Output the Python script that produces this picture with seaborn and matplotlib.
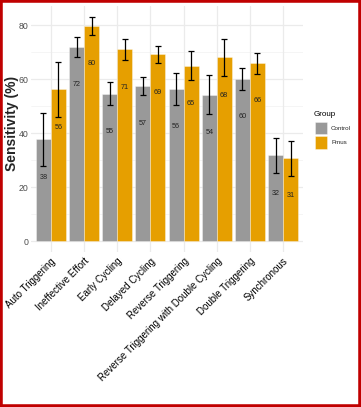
import matplotlib
matplotlib.use("Agg")
import matplotlib.pyplot as plt
from matplotlib.patches import Rectangle
import seaborn as sns
import pandas as pd
import numpy as np

categories = ["Auto Triggering", "Ineffective Effort", "Early Cycling", "Delayed Cycling",
              "Reverse Triggering", "Reverse Triggering with Double Cycling",
              "Double Triggering", "Synchronous"]
groups = ["Control", "Pmus"]
control = [37.7, 72.0, 54.6, 57.4, 56.3, 54.2, 60.1, 31.7]
pmus = [56.2, 79.6, 71.0, 69.1, 65.0, 68.0, 65.9, 30.7]
control_err = [9.8, 3.7, 4.3, 3.5, 5.8, 7.1, 4.0, 6.6]
pmus_err = [10.1, 3.4, 4.0, 3.3, 5.5, 6.9, 3.9, 6.5]
yticks = [0, 20, 40, 60, 80]

colors = {"Control": "#999999", "Pmus": "#E69F00"}

df = pd.DataFrame({
    "Type": categories * 2,
    "Group": ["Control"] * len(categories) + ["Pmus"] * len(categories),
    "Sens": control + pmus,
    "Err": control_err + pmus_err,
})

sns.set_style("white")
plt.rcParams["font.family"] = ["Liberation Sans", "DejaVu Sans"]

W, H = 361, 407
fig = plt.figure(figsize=(W / 100, H / 100), dpi=100)
L, R, T, B = 31, 303, 6, 252
ax = fig.add_axes([L / W, 1 - B / H, (R - L) / W, (B - T) / H])

# grid
for v in [10, 30, 50, 70]:
    ax.axhline(v, color="#F2F2F2", lw=0.5, zorder=0)
for v in yticks:
    ax.axhline(v, color="#EBEBEB", lw=0.9, zorder=0)
for i in range(len(categories)):
    ax.axvline(i, color="#EBEBEB", lw=0.9, zorder=0)

sns.barplot(data=df, x="Type", y="Sens", hue="Group", order=categories,
            hue_order=groups, palette=colors, width=0.9, errorbar=None, saturation=1,
            edgecolor=(1, 1, 1, 0.5), linewidth=0.5, ax=ax, legend=False, zorder=2)

off = 0.225
x = np.arange(len(categories))
for g, vals, errs, sgn in [("Control", control, control_err, -1), ("Pmus", pmus, pmus_err, 1)]:
    xs = x + sgn * off
    ax.errorbar(xs, vals, yerr=errs, fmt="none", ecolor="black", elinewidth=0.9,
                capsize=2.2, capthick=0.9, zorder=3)
    for xi, v in zip(xs, vals):
        ax.text(xi, v - 14, f"{round(v):d}", ha="center", va="center",
                fontsize=5.2, color="#222222", zorder=4)

ax.set_xlim(-0.6, len(categories) - 0.4)
ax.set_ylim(-4.07, 87.04)
ax.set_yticks(yticks)
ax.set_yticklabels([str(v) for v in yticks], fontsize=6.3, color="#4D4D4D")
ax.set_xticks(x)
ax.set_xticklabels(categories, rotation=45, ha="right", va="top",
                   rotation_mode="anchor", fontsize=7, color="black")
ax.tick_params(axis="both", length=0, pad=2)
ax.tick_params(axis="x", pad=3)
ax.set_xlabel("")
ax.set_ylabel("")
for s in ax.spines.values():
    s.set_visible(False)

fig.text(12 / W, 1 - 123.5 / H, "Sensitivity (%)", rotation=90, ha="center",
         va="center", fontsize=10, fontweight="bold")

# legend
fig.text(314 / W, 1 - 114 / H, "Group", ha="left", va="center", fontsize=5.8, color="black")
for k, g in enumerate(groups):
    y0 = 121.5 + k * 14.5
    fig.add_artist(Rectangle((315 / W, 1 - (y0 + 12.5) / H), 11.5 / W, 12.5 / H,
                             transform=fig.transFigure, facecolor=colors[g],
                             edgecolor=(1, 1, 1, 0.5), lw=0.5))
    fig.text(331 / W, 1 - (y0 + 6.5) / H, g, ha="left", va="center", fontsize=4.5)

# red frame
fig.add_artist(Rectangle((0.0, 0.0), 1, 1, transform=fig.transFigure, fill=False,
                         edgecolor="#C00000", lw=4.0))

fig.savefig("out.png", dpi=100)
